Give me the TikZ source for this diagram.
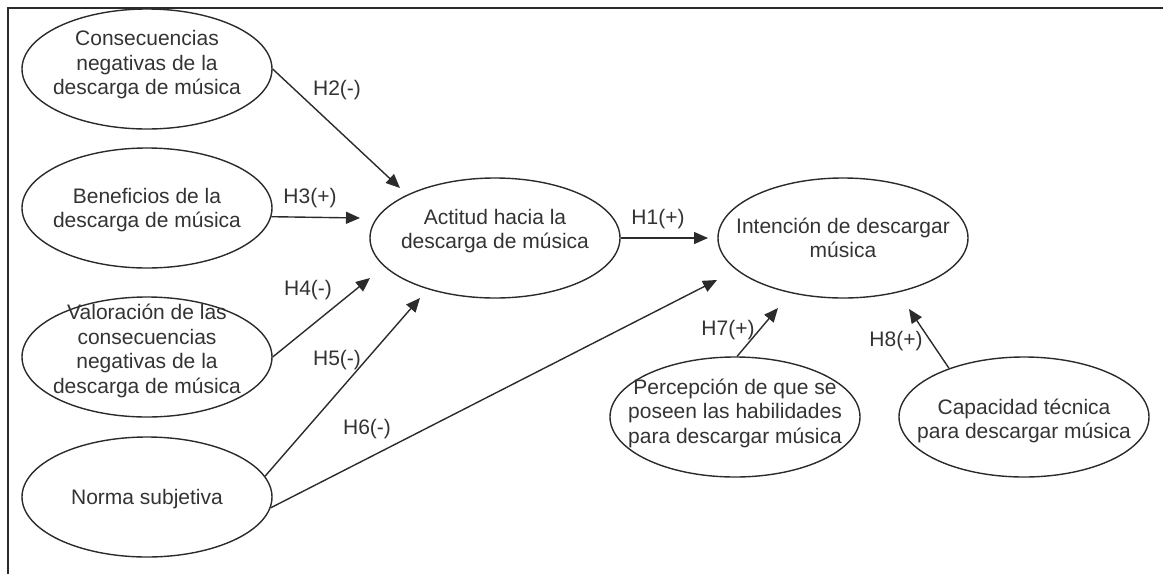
\documentclass[tikz,border=0pt]{standalone}
\usepackage{fontspec}
\setmainfont{Liberation Sans}
\usetikzlibrary{shapes.geometric,arrows.meta}
\definecolor{ink}{HTML}{2B2B2B}
\definecolor{txt}{HTML}{333333}
\tikzset{
  ell/.style={draw=ink, line width=1.4pt, ellipse, inner sep=0pt, minimum width=250pt, minimum height=120pt},
  lbl/.style={text=txt, align=center, font=\fontsize{21}{24.5}\selectfont, inner sep=0pt},
  hyp/.style={text=txt, font=\fontsize{21}{24}\selectfont, inner sep=0pt},
  arr/.style={draw=ink, line width=1.4pt, -{Triangle[length=14pt,width=12pt]}},
  frame/.style={draw=ink, line width=2.5pt}
}
\begin{document}
\begin{tikzpicture}[x=1pt,y=-1pt]
\useasboundingbox (0,0) rectangle (1163,574);
% frame
\coordinate (f1) at (8,574);
\coordinate (f2) at (8,8);
\coordinate (f3) at (1163,8);
\draw[frame] (f1) -- (f2) -- (f3);

% ellipses
\node[ell] (e1) at (147,69) {};
\node[ell] (e2) at (147,208) {};
\node[ell] (e3) at (147,357) {};
\node[ell] (e4) at (147,497) {};
\node[ell] (e5) at (495,238) {};
\node[ell] (e6) at (843,238) {};
\node[ell] (e7) at (735,417) {};
\node[ell] (e8) at (1024,417) {};

% texts
\node[lbl] (t1) at (147,65) {Consecuencias\\negativas de la\\descarga de música};
\node[lbl] (t2) at (147,210) {Beneficios de la\\descarga de música};
\node[lbl] (t3) at (147,351) {Valoración de las\\consecuencias\\negativas de la\\descarga de música};
\node[lbl] (t4) at (147,499) {Norma subjetiva};
\node[lbl] (t5) at (495,231) {Actitud hacia la\\descarga de música};
\node[lbl] (t6) at (843,238) {Intención de descargar\\música};
\node[lbl] (t7) at (735,413) {Percepción de que se\\poseen las habilidades\\para descargar música};
\node[lbl] (t8) at (1024,421) {Capacidad técnica\\para descargar música};

% arrow tips
\coordinate (p2) at (400,188);
\coordinate (p3) at (360,218);
\coordinate (p4) at (370,278);
\coordinate (p5) at (420,298);
\coordinate (p6) at (717,280);
\coordinate (p1) at (708,238);
\coordinate (p7) at (778,308);
\coordinate (p8) at (909,309);

% arrows
\draw[arr] (e1.east) -- (p2);
\draw[arr] (e2.-4.6) -- (p3);
\draw[arr] (e3.east) -- (p4);
\draw[arr] (e4.10) -- (p5);
\draw[arr] (e4.-5) -- (p6);
\draw[arr] (e5.east) -- (p1);
\draw[arr] (e7.88) -- (p7);
\draw[arr] (e8.147) -- (p8);

% hypothesis labels
\node[hyp] (h2) at (337,90) {H2(-)};
\node[hyp] (h3) at (310,198) {H3(+)};
\node[hyp] (h4) at (308,290) {H4(-)};
\node[hyp] (h5) at (337,360) {H5(-)};
\node[hyp] (h6) at (367,429) {H6(-)};
\node[hyp] (h1) at (658,219) {H1(+)};
\node[hyp] (h7) at (728,330) {H7(+)};
\node[hyp] (h8) at (896,341) {H8(+)};
\end{tikzpicture}
\end{document}
